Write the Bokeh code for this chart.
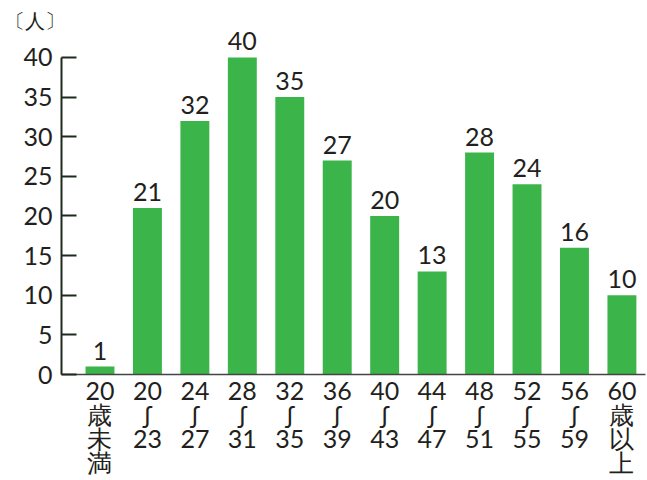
from bokeh.plotting import figure
from bokeh.models import ColumnDataSource, Range1d, FixedTicker
from bokeh.core.properties import value
from bokeh.embed import file_html
from bokeh.resources import INLINE

categories = ["20\n歳\n未\n満", "20\nʃ\n23", "24\nʃ\n27", "28\nʃ\n31", "32\nʃ\n35", "36\nʃ\n39",
              "40\nʃ\n43", "44\nʃ\n47", "48\nʃ\n51", "52\nʃ\n55", "56\nʃ\n59", "60\n歳\n以\n上"]
counts = [1, 21, 32, 40, 35, 27, 20, 13, 28, 24, 16, 10]
y_ticks = [0, 5, 10, 15, 20, 25, 30, 35, 40]
unit_label = "〔人〕"

FONT = "Lato"
TXT = "#231f20"
GREEN = "#3bb54a"

xs = list(range(len(categories)))
src = ColumnDataSource(dict(x=xs, y=counts, lab=[str(c) for c in counts]))

p = figure(width=647, height=480, output_backend="svg", toolbar_location=None,
           x_range=Range1d(-0.811, 11.497), y_range=Range1d(0, 43.28),
           min_border_left=61, min_border_right=2, min_border_top=31, min_border_bottom=106)
p.outline_line_color = None
p.grid.visible = False
p.background_fill_color = "white"

p.title.text = unit_label
p.title.align = "left"
p.title.offset = -57
p.title.standoff = 0
p.title.text_font = FONT
p.title.text_font_size = "20px"
p.title.text_font_style = "normal"
p.title.text_color = TXT

p.vbar(x="x", top="y", width=0.61, source=src, color=GREEN, line_color=None)
p.text(x="x", y="y", text="lab", source=src, text_align="center", text_baseline="alphabetic",
       y_offset=-16, text_font=value(FONT), text_font_size="25px", text_color=TXT)

ya = p.yaxis[0]
ya.ticker = FixedTicker(ticks=y_ticks)
ya.bounds = (0, 40)
ya.axis_line_color = "#1f2a1f"
ya.axis_line_width = 2
ya.major_tick_in = 15
ya.major_tick_out = 0
ya.major_tick_line_width = 2
ya.major_tick_line_color = "#1f2a1f"
ya.minor_tick_line_color = None
ya.major_label_text_font = FONT
ya.major_label_text_font_size = "25px"
ya.major_label_text_color = TXT
ya.major_label_standoff = 9

xa = p.xaxis[0]
xa.ticker = FixedTicker(ticks=xs)
xa.major_label_overrides = {i: c for i, c in enumerate(categories)}
xa.axis_line_color = "#444444"
xa.axis_line_width = 1.5
xa.major_tick_in = 0
xa.major_tick_out = 0
xa.minor_tick_line_color = None
xa.major_label_text_font = FONT
xa.major_label_text_font_size = "25px"
xa.major_label_text_color = TXT
xa.major_label_standoff = 0
xa.major_label_text_line_height = 0.81

open("out.html", "w").write(file_html(p, INLINE))
